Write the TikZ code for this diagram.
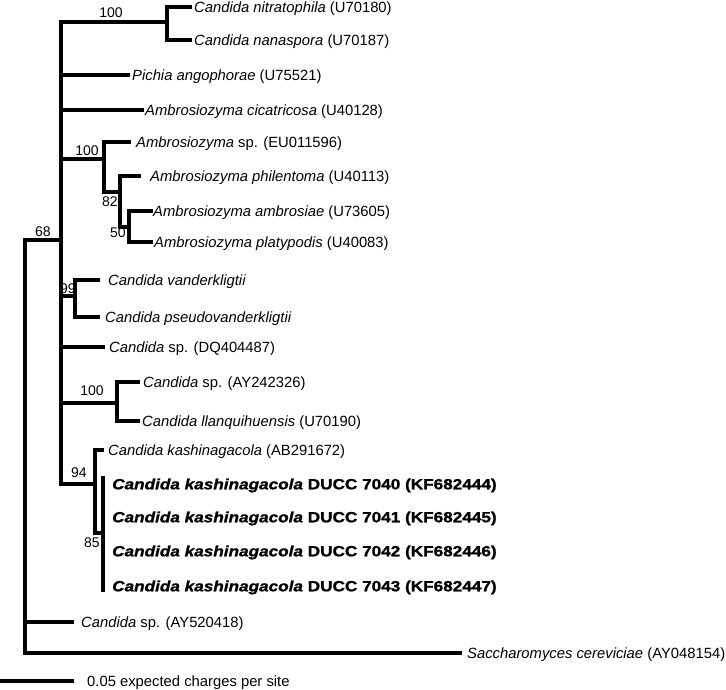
\documentclass[tikz,border=0pt]{standalone}
\usepackage{fontspec}
\setmainfont{Liberation Sans}
\newfontfamily\heavy[FakeStretch=1.16,FakeBold=1.2]{Liberation Sans}
\begin{document}
\begin{tikzpicture}[x=1pt,y=-1pt,
  br/.style={draw, line width=3.4pt, line cap=rect, line join=miter},
  taxon/.style={anchor=base west, inner sep=0pt, yshift=-5.3pt, font=\fontsize{14.8}{16}\selectfont},
  ducc/.style={anchor=base west, inner sep=0pt, yshift=-5.3pt, font=\heavy\bfseries\fontsize{14.8}{16}\selectfont},
  boot/.style={inner sep=0pt, font=\fontsize{14}{15}\selectfont}]
\useasboundingbox (0,0) rectangle (726,690);
% internal nodes
\coordinate (root) at (25,446);
\coordinate (nA) at (61,240);
\coordinate (n100a) at (167,22);
\coordinate (n100b) at (104,159);
\coordinate (n82) at (120,192);
\coordinate (n50) at (129,227);
\coordinate (n99) at (75,296);
\coordinate (n100c) at (117,403);
\coordinate (n94) at (95,484);
\coordinate (n85) at (103,533);
\coordinate (n85top) at (103,478);
\coordinate (n85bot) at (103,590);
% leaf branch ends
\coordinate (t1) at (190,7);
\coordinate (t2) at (190,40);
\coordinate (t3) at (128,75);
\coordinate (t4) at (142,110);
\coordinate (t5) at (129,142);
\coordinate (t6) at (139,176);
\coordinate (t7) at (151,211);
\coordinate (t8) at (151,242);
\coordinate (t9) at (98,280);
\coordinate (t10) at (98,317);
\coordinate (t11) at (103,347);
\coordinate (t12) at (138,382);
\coordinate (t13) at (138,421);
\coordinate (t14) at (102,450);
\coordinate (t15) at (103,484);
\coordinate (t16) at (103,517);
\coordinate (t17) at (103,551);
\coordinate (t18) at (103,586);
\coordinate (t19) at (72,622);
\coordinate (t20) at (460,653);
\coordinate (sb0) at (0,681);
\coordinate (sb1) at (72,681);
% branches
\draw[br] (root) |- (nA);
\draw[br] (root) |- (t19);
\draw[br] (root) |- (t20);
\draw[br] (nA) |- (n100a);
\draw[br] (nA) |- (t3);
\draw[br] (nA) |- (t4);
\draw[br] (nA) |- (n100b);
\draw[br] (nA) |- (n99);
\draw[br] (nA) |- (t11);
\draw[br] (nA) |- (n100c);
\draw[br] (nA) |- (n94);
\draw[br] (n100a) |- (t1);
\draw[br] (n100a) |- (t2);
\draw[br] (n100b) |- (t5);
\draw[br] (n100b) |- (n82);
\draw[br] (n82) |- (t6);
\draw[br] (n82) |- (n50);
\draw[br] (n50) |- (t7);
\draw[br] (n50) |- (t8);
\draw[br] (n99) |- (t9);
\draw[br] (n99) |- (t10);
\draw[br] (n100c) |- (t12);
\draw[br] (n100c) |- (t13);
\draw[br] (n94) |- (t14);
\draw[br] (n94) |- (n85);
\draw[br] (n85top) -- (n85bot);
\draw[br] (sb0) -- (sb1);
% taxon labels
\node[taxon] (L1) at (194,7) {\textit{Candida nitratophila} (U70180)};
\node[taxon] (L2) at (194,40) {\textit{Candida nanaspora} (U70187)};
\node[taxon] (L3) at (132,75) {\textit{Pichia angophorae} (U75521)};
\node[taxon] (L4) at (145,110) {\textit{Ambrosiozyma cicatricosa} (U40128)};
\node[taxon] (L5) at (136,142) {\textit{Ambrosiozyma} sp. (EU011596)};
\node[taxon] (L6) at (150,176) {\textit{Ambrosiozyma philentoma} (U40113)};
\node[taxon] (L7) at (153,211) {\textit{Ambrosiozyma ambrosiae} (U73605)};
\node[taxon] (L8) at (154,242) {\textit{Ambrosiozyma platypodis} (U40083)};
\node[taxon] (L9) at (108,280) {\textit{Candida vanderkligtii}};
\node[taxon] (L10) at (105,317) {\textit{Candida pseudovanderkligtii}};
\node[taxon] (L11) at (109,347) {\textit{Candida} sp. (DQ404487)};
\node[taxon] (L12) at (143,382) {\textit{Candida} sp. (AY242326)};
\node[taxon] (L13) at (142,421) {\textit{Candida llanquihuensis} (U70190)};
\node[taxon] (L14) at (108,450) {\textit{Candida kashinagacola} (AB291672)};
\node[ducc] (L15) at (112,484) {\textit{Candida kashinagacola} DUCC 7040 (KF682444)};
\node[ducc] (L16) at (112,517) {\textit{Candida kashinagacola} DUCC 7041 (KF682445)};
\node[ducc] (L17) at (112,551) {\textit{Candida kashinagacola} DUCC 7042 (KF682446)};
\node[ducc] (L18) at (112,586) {\textit{Candida kashinagacola} DUCC 7043 (KF682447)};
\node[taxon] (L19) at (81,622) {\textit{Candida} sp. (AY520418)};
\node[taxon] (L20) at (467,653) {\textit{Saccharomyces cereviciae} (AY048154)};
\node[taxon] (Lsb) at (87,681) {0.05 expected charges per site};
% bootstrap values
\node[boot] (b1) at (111,13) {100};
\node[boot] (b2) at (87,151) {100};
\node[boot] (b3) at (110,202) {82};
\node[boot] (b4) at (118,233) {50};
\node[boot] (b5) at (43,232) {68};
\node[boot] (b6) at (68,289) {99};
\node[boot] (b7) at (92,391) {100};
\node[boot] (b8) at (79,473) {94};
\node[boot] (b9) at (92,543) {85};
\end{tikzpicture}
\end{document}
